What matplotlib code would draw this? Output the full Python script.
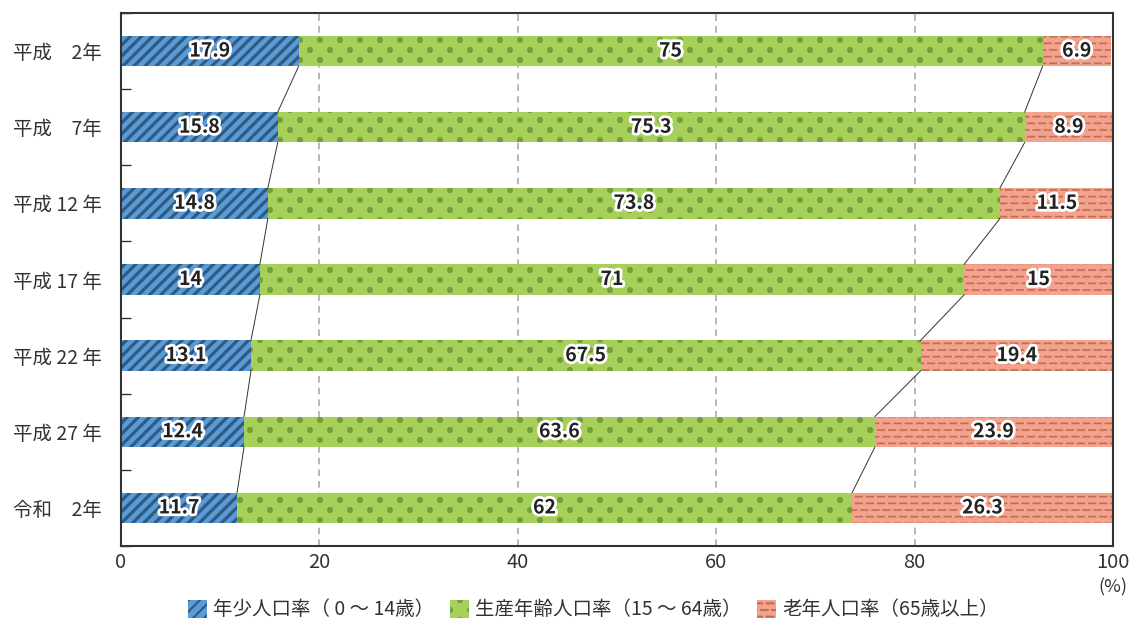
import matplotlib.pyplot as plt
import matplotlib.patheffects as pe
import matplotlib.hatch as mhatch
from matplotlib.path import Path
import numpy as np
import warnings

warnings.filterwarnings('ignore')
plt.rcParams['font.family'] = ['Noto Sans CJK JP', 'DejaVu Sans']
plt.rcParams['hatch.linewidth'] = 1.5

years = ['平成　2年', '平成　7年', '平成 12 年', '平成 17 年', '平成 22 年', '平成 27 年', '令和　2年']
young = [17.9, 15.8, 14.8, 14, 13.1, 12.4, 11.7]
working = [75, 75.3, 73.8, 71, 67.5, 63.6, 62]
old = [6.9, 8.9, 11.5, 15, 19.4, 23.9, 26.3]
series_names = ['年少人口率（ 0 ～ 14歳）', '生産年齢人口率（15 ～ 64歳）', '老年人口率（65歳以上）']


# custom hatch: staggered dots ('d') and staggered dashes ('q')
class DotHatch(mhatch.HatchPatternBase):
    def __init__(self, hatch, density):
        n = hatch.count('d')
        self.centers = []
        if n:
            nr, nc = 10, 5
            for r in range(nr + 1):
                if r % 2 == 0:
                    xs = np.arange(nc + 1) / nc
                else:
                    xs = (np.arange(nc) + 0.5) / nc
                for x in xs:
                    self.centers.append((x, r / nr))
        self.circ = Path.unit_circle()
        self.num_vertices = len(self.centers) * len(self.circ.vertices)

    def set_vertices_and_codes(self, vertices, codes):
        cv = self.circ.vertices * 0.02
        k = len(cv)
        for i, (x, y) in enumerate(self.centers):
            vertices[i * k:(i + 1) * k] = cv + (x, y)
            codes[i * k:(i + 1) * k] = self.circ.codes


class DashHatch(mhatch.HatchPatternBase):
    def __init__(self, hatch, density):
        n = hatch.count('q')
        self.segs = []
        if n:
            nr, nc, dl = 15, 9, 0.065
            for r in range(nr):
                shift = 0.5 / nc if r % 2 else 0.0
                for c in range(-1, nc + 1):
                    x0 = c / nc + shift
                    self.segs.append((x0, x0 + dl, (r + 0.5) / nr))
        self.num_vertices = 2 * len(self.segs)

    def set_vertices_and_codes(self, vertices, codes):
        for i, (x0, x1, y) in enumerate(self.segs):
            vertices[2 * i] = (x0, y)
            vertices[2 * i + 1] = (x1, y)
            codes[2 * i] = Path.MOVETO
            codes[2 * i + 1] = Path.LINETO


mhatch._hatch_types.extend([DotHatch, DashHatch])

colors = ['#5b9bd5', '#a7d05a', '#f4a28b']
hatch_colors = ['#2f5a82', '#739e3c', '#b8705c']
hatches = ['///', 'd', 'q']
hatch_lws = [2.3, 1.5, 1.2]

fig = plt.figure(figsize=(11.32, 6.23), dpi=100)
ax = fig.add_axes([0.1069, 0.1236, 0.8763, 0.8555])

y = np.arange(len(years))
bar_h = 0.4
left = np.zeros(len(years))
for vals, name, c, hc, h, hl in zip([young, working, old], series_names, colors,
                                    hatch_colors, hatches, hatch_lws):
    vals = np.array(vals, dtype=float)
    bars = ax.barh(y, vals, left=left, height=bar_h, color=c, edgecolor=hc,
                   hatch=h, linewidth=0, label=name, zorder=2)
    for b in bars:
        if hasattr(b, 'set_hatch_linewidth'):
            b.set_hatch_linewidth(hl)
    for yi, l, v in zip(y, left, vals):
        ax.text(l + v / 2, yi, f'{v:g}', ha='center', va='center', fontsize=14,
                fontweight='bold', color='#222222', zorder=5,
                path_effects=[pe.withStroke(linewidth=4, foreground='white')])
    left = left + vals

# series lines between bars
b1 = np.array(young)
b2 = np.array(young) + np.array(working)
for bnd in [b1, b2]:
    for i in range(len(years) - 1):
        ax.plot([bnd[i], bnd[i + 1]], [y[i] + bar_h / 2, y[i + 1] - bar_h / 2],
                color='#333333', lw=0.7, zorder=3)

ax.set_xlim(0, 100)
ax.set_ylim(len(years) - 0.5, -0.5)
ax.set_xticks([0, 20, 40, 60, 80, 100])
ax.set_xticklabels(['0', '20', '40', '60', '80', '100'])
ax.tick_params(axis='x', length=0, labelsize=14.5, colors='#333333', pad=4)
ax.set_yticks(y)
ax.set_yticklabels(years)
ax.tick_params(axis='y', length=0, labelsize=14, colors='#333333', pad=14)
ax.set_yticks(np.arange(len(years) + 1) - 0.5, minor=True)
ax.tick_params(axis='y', which='minor', length=7, direction='in', color='#333333', width=1)
ax.grid(axis='x', color='#aaaaaa', linestyle=(0, (4, 3)), lw=1.2, zorder=0)
for s in ax.spines.values():
    s.set_color('#333333')
    s.set_linewidth(1.5)

ax.text(100, -0.077, '(%)', transform=ax.get_xaxis_transform(), ha='center', va='center',
        fontsize=13, color='#333333')

leg = ax.legend(loc='center', bbox_to_anchor=(0.476, -0.12), ncol=3, frameon=False,
                fontsize=14, handlelength=1.0, handleheight=1.1, handletextpad=0.3,
                columnspacing=0.8, labelcolor='#333333', borderpad=0)
for p in leg.get_patches():
    if hasattr(p, 'set_hatch_linewidth'):
        p.set_hatch_linewidth(1.5)

fig.savefig('out.png', dpi=100)
